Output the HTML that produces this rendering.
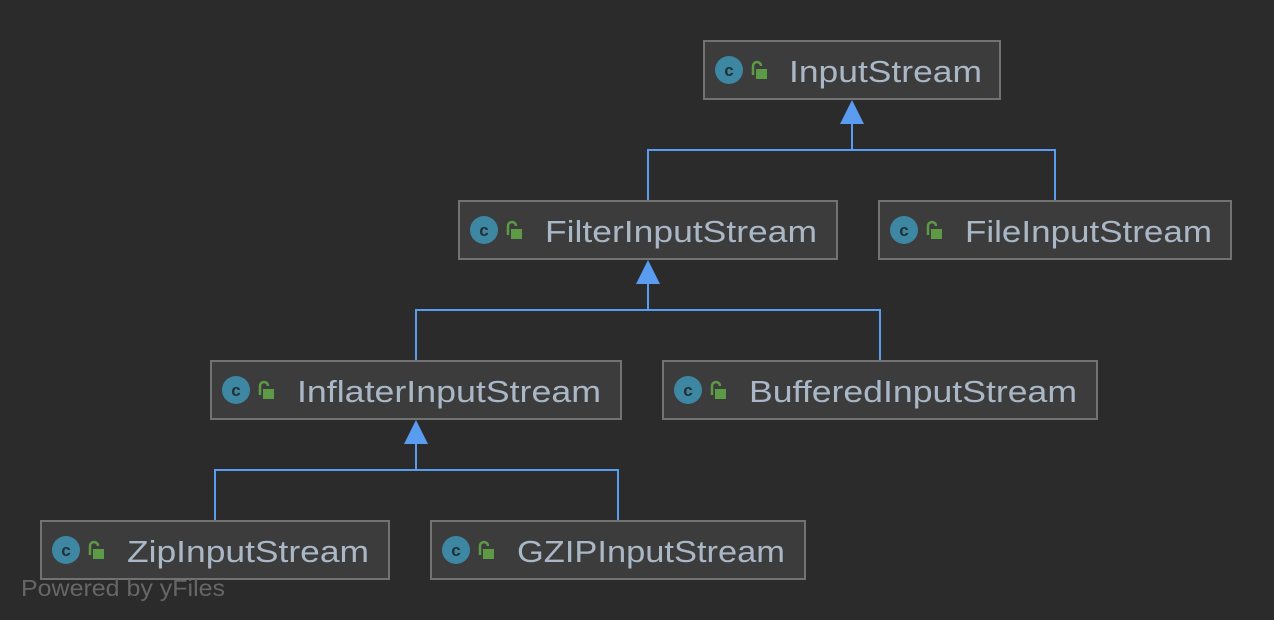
<!DOCTYPE html>
<html><head><meta charset="utf-8"><style>
html,body{margin:0;padding:0;background:#2b2b2b;}
svg{display:block}
text{font-family:"Liberation Sans","DejaVu Sans",sans-serif;}
</style></head><body>
<svg width="1274" height="620" xmlns="http://www.w3.org/2000/svg">
<rect width="1274" height="620" fill="#2b2b2b"/>
<defs>
<g id="ic">
<circle cx="25" cy="29" r="14" fill="#3d87a3"/>
<text x="25" y="35" font-size="17" fill="#253035" text-anchor="middle" font-weight="bold">c</text>
<path d="M49 34 v-9 a4 4 0 0 1 8 0" fill="none" stroke="#5d9a45" stroke-width="2.5"/>
<rect x="52" y="28" width="11" height="10" fill="#5d9a45"/>
</g>
</defs>
<g stroke="#5a9cf0" stroke-width="2" fill="none">
<path d="M852 122 V150 M648 201 V150 H1055 V201"/>
<path d="M648 282 V310 M416 361 V310 H880 V361"/>
<path d="M416 442 V470 M215 521 V470 H618 V521"/>
</g>
<g fill="#5a9cf0">
<polygon points="852,100 840,124 864,124"/>
<polygon points="648,260 636,284 660,284"/>
<polygon points="416,420 404,444 428,444"/>
</g>
<g fill="#3c3c3c" stroke="#727272" stroke-width="2">
<rect x="704" y="41" width="296" height="58"/>
<rect x="459" y="201" width="378" height="58"/>
<rect x="879" y="201" width="352" height="58"/>
<rect x="211" y="361" width="410" height="58"/>
<rect x="663" y="361" width="434" height="58"/>
<rect x="41" y="521" width="348" height="58"/>
<rect x="431" y="521" width="374" height="58"/>
</g>
<use href="#ic" x="704" y="41"/>
<use href="#ic" x="459" y="201"/>
<use href="#ic" x="879" y="201"/>
<use href="#ic" x="211" y="361"/>
<use href="#ic" x="663" y="361"/>
<use href="#ic" x="41" y="521"/>
<use href="#ic" x="431" y="521"/>
<g fill="#a9b7c6" font-size="31" lengthAdjust="spacingAndGlyphs">
<text x="789" y="82" textLength="193" lengthAdjust="spacingAndGlyphs">InputStream</text>
<text x="545" y="242" textLength="272" lengthAdjust="spacingAndGlyphs">FilterInputStream</text>
<text x="965" y="242" textLength="247" lengthAdjust="spacingAndGlyphs">FileInputStream</text>
<text x="297" y="402" textLength="304" lengthAdjust="spacingAndGlyphs">InflaterInputStream</text>
<text x="749" y="402" textLength="328" lengthAdjust="spacingAndGlyphs">BufferedInputStream</text>
<text x="127" y="562" textLength="242" lengthAdjust="spacingAndGlyphs">ZipInputStream</text>
<text x="517" y="562" textLength="268" lengthAdjust="spacingAndGlyphs">GZIPInputStream</text>
</g>
<text x="21" y="596" font-size="23" fill="#666666" textLength="204" lengthAdjust="spacingAndGlyphs">Powered by yFiles</text>
</svg>
</body></html>
